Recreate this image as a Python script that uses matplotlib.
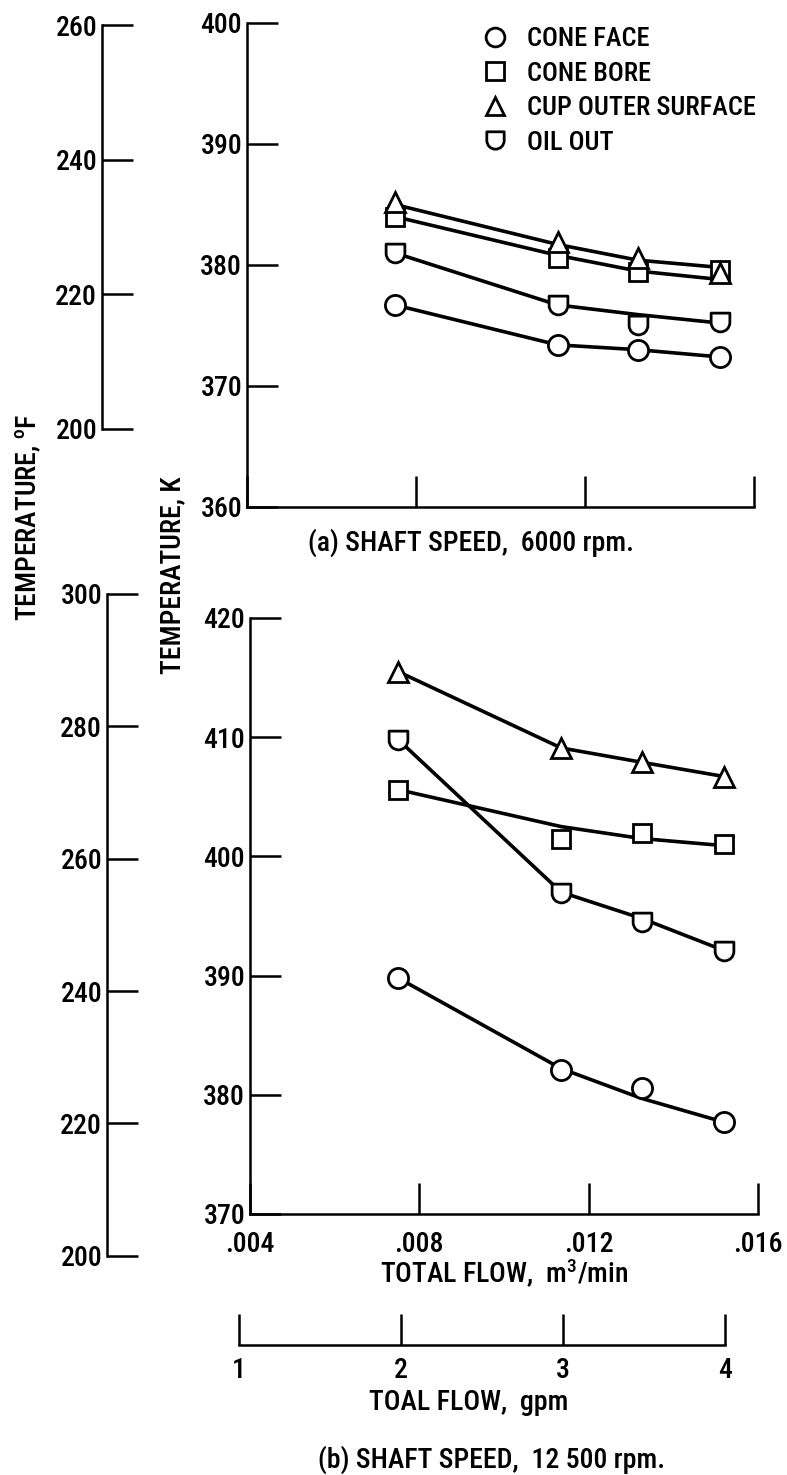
import matplotlib
matplotlib.use('Agg')
import matplotlib.pyplot as plt
from matplotlib import font_manager
from matplotlib.path import Path
from matplotlib.lines import Line2D

# pick a condensed sans face if one is present, else DejaVu Sans
installed = {f.name for f in font_manager.fontManager.ttflist}
narrow = next((n for n in ['Liberation Sans Narrow', 'Roboto Condensed', 'PT Sans Narrow',
                           'Archivo Narrow', 'Fira Sans Condensed', 'IBM Plex Sans Condensed']
               if n in installed), 'DejaVu Sans')
plt.rcParams['font.family'] = [narrow, 'DejaVu Sans']
plt.rcParams['font.weight'] = 'medium'
plt.rcParams['mathtext.fontset'] = 'custom'
plt.rcParams['mathtext.rm'] = narrow
plt.rcParams['mathtext.it'] = narrow

W, H = 787, 1475

# Data (temperature, K)
flow = [0.0075, 0.01135, 0.01325, 0.0152]  # total flow, m^3/min

# (a) shaft speed 6000 rpm - measured points and faired curve
a_face = [376.7, 373.4, 373.0, 372.4]
a_face_fit = [376.7, 373.4, 373.0, 372.4]
a_bore = [384.0, 380.6, 379.4, 379.6]
a_bore_fit = [384.0, 380.8, 379.5, 378.8]
a_cup = [385.2, 381.9, 380.6, 379.3]
a_cup_fit = [385.0, 381.7, 380.4, 379.8]
a_oil = [381.0, 376.7, 375.0, 375.3]
a_oil_fit = [381.0, 376.7, 375.9, 375.2]

# (b) shaft speed 12 500 rpm
b_face = [389.8, 382.1, 380.6, 377.7]
b_face_fit = [389.8, 382.2, 379.7, 377.7]
b_bore = [405.6, 401.5, 402.0, 401.0]
b_bore_fit = [405.6, 402.5, 401.5, 400.9]
b_cup = [415.5, 409.1, 407.9, 406.7]
b_cup_fit = [415.5, 409.1, 407.9, 406.7]
b_oil = [409.8, 396.9, 394.5, 392.1]
b_oil_fit = [409.8, 397.0, 394.8, 392.1]

labels = ['CONE FACE', 'CONE BORE', 'CUP OUTER SURFACE', 'OIL OUT']

k_ticks_a = [360, 370, 380, 390, 400]
f_ticks_a = [200, 220, 240, 260]
k_ticks_b = [370, 380, 390, 400, 410, 420]
f_ticks_b = [200, 220, 240, 260, 280, 300]
flow_ticks = [0.004, 0.008, 0.012, 0.016]
flow_labels = ['.004', '.008', '.012', '.016']
gpm_ticks = [1, 2, 3, 4]

LW = 1.8
TL = 22
FS = 20


def box(l, t, r, b):
    return [l / W, 1 - b / H, (r - l) / W, (b - t) / H]


def fx(px):
    return px / W


def fy(py):
    return 1 - py / H


# oil-out symbol: flat top, round bottom
arc = Path.arc(180, 360)
oil_verts = [(-1, 1), (-1, 0)] + [tuple(v) for v in arc.vertices[1:]] + [(1, 1), (-1, 1)]
oil_codes = [Path.MOVETO, Path.LINETO] + list(arc.codes[1:]) + [Path.LINETO, Path.CLOSEPOLY]
oil_marker = Path(oil_verts, oil_codes)

markers = ['o', 's', '^', oil_marker]
msizes = [14.5, 13.5, 14.5, 13.5]

fig = plt.figure(figsize=(W / 100, H / 100), dpi=100)


def style_axis(ax):
    for s in ['top', 'right']:
        ax.spines[s].set_visible(False)
    for s in ['left', 'bottom']:
        ax.spines[s].set_linewidth(LW)
    ax.tick_params(direction='in', length=TL, width=LW, labelsize=FS)
    ax.tick_params(axis='y', pad=3.5)
    ax.tick_params(axis='x', pad=12)
    ax.patch.set_visible(False)


def draw_panel(ax, series, fits):
    for fit in fits:
        ax.plot(flow, fit, color='black', lw=2.6, zorder=2, solid_capstyle='round')
    for vals, m, ms in zip(series, markers, msizes):
        ax.plot(flow, vals, linestyle='none', marker=m, ms=ms, mfc='white',
                mec='black', mew=2.0, zorder=3)


def f_axis(ax, x_px, f_lo, f_hi, ticks):
    pos = ax.get_position()
    k0, k1 = ax.get_ylim()

    def k_fig(k):
        return pos.y0 + (k - k0) / (k1 - k0) * pos.height

    def to_k(f):
        return (f - 32) * 5 / 9 + 273.15

    y0, y1 = k_fig(to_k(f_lo)), k_fig(to_k(f_hi))
    fa = fig.add_axes([x_px / W, y0, 0.05, y1 - y0])
    fa.set_ylim(f_lo, f_hi)
    fa.set_yticks(ticks)
    for s in ['top', 'right', 'bottom']:
        fa.spines[s].set_visible(False)
    fa.spines['left'].set_linewidth(LW)
    fa.set_xticks([])
    fa.tick_params(axis='y', direction='in', length=TL, width=LW, labelsize=FS, pad=3.5)
    fa.patch.set_visible(False)
    return fa


# Panel (a)
ax_a = fig.add_axes(box(247, 23, 754, 507))
style_axis(ax_a)
ax_a.set_xlim(0.004, 0.016)
ax_a.set_ylim(360, 400)
ax_a.set_yticks(k_ticks_a)
ax_a.set_xticks(flow_ticks)
ax_a.tick_params(axis='x', labelbottom=False)
draw_panel(ax_a, [a_face, a_bore, a_cup, a_oil],
           [a_face_fit, a_bore_fit, a_cup_fit, a_oil_fit])
f_axis(ax_a, 102, 200, 260, f_ticks_a)

handles = [Line2D([], [], linestyle='none', marker=m, ms=ms - 1, mfc='white', mec='black', mew=2.0)
           for m, ms in zip(markers, msizes)]
ax_a.legend(handles, labels, loc='upper left', bbox_to_anchor=(fx(482), fy(27)),
            bbox_transform=fig.transFigure, frameon=False, fontsize=19,
            handlelength=1.0, handletextpad=0.7, labelspacing=0.4,
            borderpad=0, borderaxespad=0)

# Panel (b)
ax_b = fig.add_axes(box(250, 618, 758, 1214))
style_axis(ax_b)
ax_b.set_xlim(0.004, 0.016)
ax_b.set_ylim(370, 420)
ax_b.set_yticks(k_ticks_b)
ax_b.set_xticks(flow_ticks)
ax_b.set_xticklabels(flow_labels)
draw_panel(ax_b, [b_face, b_bore, b_cup, b_oil],
           [b_face_fit, b_bore_fit, b_cup_fit, b_oil_fit])
f_axis(ax_b, 107, 200, 300, f_ticks_b)

# gpm scale
ax_g = fig.add_axes(box(239, 1300, 725, 1345))
ax_g.set_xlim(1, 4)
ax_g.set_xticks(gpm_ticks)
ax_g.set_yticks([])
for s in ['top', 'right', 'left']:
    ax_g.spines[s].set_visible(False)
ax_g.spines['bottom'].set_linewidth(LW)
ax_g.tick_params(axis='x', direction='in', length=TL, width=LW, labelsize=FS, pad=9)
ax_g.patch.set_visible(False)

# Texts
fig.text(fx(28), fy(517), r'TEMPERATURE, $^{\mathrm{o}}$F', rotation=90,
         ha='center', va='center', fontsize=FS)
fig.text(fx(173), fy(575), 'TEMPERATURE, K', rotation=90,
         ha='center', va='center', fontsize=FS)
fig.text(fx(471), fy(543), '(a) SHAFT SPEED,  6000 rpm.', ha='center', va='center', fontsize=FS)
fig.text(fx(504), fy(1273), r'TOTAL FLOW,  m$^3$/min', ha='center', va='center', fontsize=FS)
fig.text(fx(469), fy(1403), 'TOAL FLOW,  gpm', ha='center', va='center', fontsize=FS)
fig.text(fx(491), fy(1460), '(b) SHAFT SPEED,  12 500 rpm.', ha='center', va='center', fontsize=FS)

fig.savefig('out.png', dpi=100)
